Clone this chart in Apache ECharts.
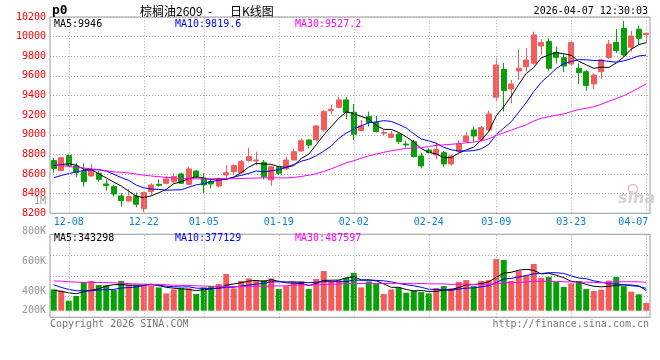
<!DOCTYPE html>
<html>
<head>
<meta charset="utf-8">
<script src="https://cdn.jsdelivr.net/npm/echarts@6/dist/echarts.min.js"></script>
<style>html,body{margin:0;padding:0;background:#fff}#c{width:660px;height:360px}</style>
</head>
<body>
<div id="c"></div>
<script>
// ---------- data ----------
const dates = [
 '2025-12-04','2025-12-05','2025-12-08','2025-12-09','2025-12-10','2025-12-11','2025-12-12','2025-12-15','2025-12-16','2025-12-17',
 '2025-12-18','2025-12-19','2025-12-22','2025-12-23','2025-12-24','2025-12-25','2025-12-26','2025-12-29','2025-12-30','2025-12-31',
 '2026-01-05','2026-01-06','2026-01-07','2026-01-08','2026-01-09','2026-01-12','2026-01-13','2026-01-14','2026-01-15','2026-01-16',
 '2026-01-19','2026-01-20','2026-01-21','2026-01-22','2026-01-23','2026-01-26','2026-01-27','2026-01-28','2026-01-29','2026-01-30',
 '2026-02-02','2026-02-03','2026-02-04','2026-02-05','2026-02-06','2026-02-09','2026-02-10','2026-02-11','2026-02-12','2026-02-13',
 '2026-02-24','2026-02-25','2026-02-26','2026-02-27','2026-03-02','2026-03-03','2026-03-04','2026-03-05','2026-03-06','2026-03-09',
 '2026-03-10','2026-03-11','2026-03-12','2026-03-13','2026-03-16','2026-03-17','2026-03-18','2026-03-19','2026-03-20','2026-03-23',
 '2026-03-24','2026-03-25','2026-03-26','2026-03-27','2026-03-30','2026-03-31','2026-04-01','2026-04-02','2026-04-03','2026-04-07'
];
const opens = [
 8737,8635,8788,8682,8625,8580,8608,8499,8472,8377,
 8326,8377,8248,8421,8495,8506,8523,8601,8495,8631,
 8557,8523,8478,8591,8625,8614,8737,8733,8720,8540,
 8669,8652,8743,8835,8947,8947,9049,9246,9280,9355,
 9229,9042,9185,9124,9015,8974,9008,8906,8930,8784,
 8845,8794,8818,8703,8828,8930,9049,8947,9049,9382,
 9667,9467,9650,9694,9728,9905,9949,9840,9786,9721,
 9677,9643,9518,9643,9786,9942,10085,9891,10075,10020
];
const closes = [
 8658,8767,8686,8614,8523,8640,8546,8482,8397,8329,
 8370,8292,8411,8489,8485,8550,8574,8506,8652,8574,
 8489,8499,8550,8614,8686,8726,8777,8743,8574,8675,
 8608,8743,8828,8940,8896,9090,9236,9260,9355,9226,
 9005,9090,9124,9032,9022,9008,8930,8896,8777,8682,
 8818,8852,8703,8784,8906,8988,8988,9073,9212,9711,
 9450,9518,9677,9762,10017,9939,9677,9789,9701,9939,
 9633,9501,9609,9762,9925,9857,9813,10007,9983,10034
];
const highs = [
 8767,8774,8794,8709,8709,8703,8631,8546,8489,8404,
 8445,8411,8421,8506,8546,8580,8608,8614,8675,8641,
 8608,8557,8565,8692,8699,8743,8869,8828,8743,8686,
 8682,8777,8852,8964,8954,9100,9253,9304,9389,9382,
 9314,9151,9236,9192,9049,9039,9015,8940,8947,8818,
 8862,8920,8835,8794,8940,9025,9083,9090,9246,9779,
 9735,9558,9871,9881,10051,9973,9983,9898,9820,9959,
 9728,9660,9626,9769,9966,10078,10160,10061,10112,10034
];
const lows = [
 8614,8631,8675,8567,8472,8574,8523,8431,8370,8268,
 8319,8261,8214,8387,8472,8495,8506,8499,8489,8557,
 8404,8455,8462,8557,8591,8601,8726,8686,8546,8482,
 8591,8641,8737,8828,8862,8940,9032,9209,9270,9161,
 8947,9039,9083,9025,8991,8964,8906,8872,8770,8658,
 8811,8750,8675,8686,8818,8920,8930,8940,9032,9348,
 9236,9321,9558,9643,9718,9813,9653,9728,9637,9711,
 9518,9450,9463,9569,9772,9830,9796,9847,9915,9932
];
const ma5 = [
 8688,8697,8705,8690,8650,8646,8602,8561,8518,8478,
 8425,8374,8360,8378,8409,8445,8502,8521,8553,8571,
 8559,8544,8553,8545,8568,8615,8671,8709,8701,8699,
 8675,8669,8686,8759,8803,8899,8998,9084,9167,9233,
 9216,9187,9160,9095,9055,9055,9023,8978,8927,8859,
 8821,8805,8766,8768,8813,8847,8874,8948,9033,9194,
 9287,9393,9514,9624,9685,9783,9814,9837,9825,9809,
 9748,9713,9677,9689,9686,9731,9793,9873,9917,9939
];
const ma10 = [
 8563,8585,8605,8622,8635,8642,8643,8630,8598,8564,
 8535,8487,8460,8447,8444,8435,8438,8440,8466,8490,
 8502,8523,8537,8549,8569,8587,8607,8631,8623,8633,
 8645,8670,8697,8730,8751,8787,8833,8885,8963,9018,
 9058,9093,9122,9131,9144,9136,9105,9069,9011,8957,
 8938,8914,8872,8847,8836,8834,8839,8857,8901,9004,
 9067,9133,9231,9329,9440,9535,9604,9675,9724,9747,
 9765,9764,9757,9757,9748,9739,9753,9775,9803,9812
];
const ma30 = [
 8706,8690,8676,8668,8661,8653,8645,8634,8623,8617,
 8611,8600,8589,8580,8573,8566,8561,8556,8553,8551,
 8550,8550,8551,8552,8553,8555,8557,8559,8561,8562,
 8561,8560,8565,8576,8588,8603,8626,8652,8684,8714,
 8735,8762,8785,8804,8821,8837,8849,8862,8866,8869,
 8880,8892,8897,8903,8910,8919,8926,8937,8958,8993,
 9021,9047,9075,9102,9140,9168,9183,9200,9212,9236,
 9257,9270,9286,9311,9341,9369,9399,9436,9476,9521
];
// volumes in thousands of lots (K)
const volumes = [
 411,402,336,367,460,467,440,438,407,467,
 442,440,438,438,424,384,411,418,418,380,
 424,433,447,513,418,467,484,473,473,484,
 413,433,460,467,413,480,533,467,473,487,
 520,424,464,447,380,411,422,389,402,393,
 384,420,433,418,460,473,433,467,473,613,
 607,467,533,504,580,487,493,460,427,451,
 467,413,400,409,469,493,433,396,378,320
];
const volMa5 = [
 405,398,388,382,395,406,414,434,442,444,
 439,439,439,445,436,425,419,415,411,402,
 410,415,420,439,447,456,466,471,463,476,
 465,455,453,451,437,451,471,472,473,488,
 496,474,474,468,447,425,425,410,401,403,
 398,398,406,410,423,441,443,450,461,492,
 519,525,539,545,538,514,519,505,489,464,
 460,444,432,428,432,437,441,440,434,404
];
const volMa10 = [
 442,424,411,402,402,402,407,409,411,420,
 423,426,437,444,440,432,429,427,428,419,
 418,417,418,425,425,433,440,446,451,462,
 461,461,462,457,457,458,463,462,462,463,
 473,472,473,471,468,461,450,442,435,425,
 412,411,408,405,413,419,421,428,435,457,
 480,484,494,503,515,516,522,522,517,501,
 487,482,468,459,448,448,442,436,431,418
];
const volMa30 = [
 467,466,462,459,458,458,457,456,455,452,
 449,447,446,445,444,441,439,438,437,435,
 433,432,431,431,430,430,431,432,432,433,
 434,435,439,442,440,441,444,445,447,448,
 450,450,451,451,450,451,451,450,449,450,
 448,448,448,444,446,446,444,444,444,448,
 455,456,458,460,465,465,464,464,462,461,
 459,459,457,456,459,461,462,462,461,459
];
const xLabelDates = ['2025-12-08','2025-12-22','2026-01-05','2026-01-19','2026-02-02','2026-02-24','2026-03-09','2026-03-23','2026-04-07'];
const priceMin = 8200, priceMax = 10200, priceStep = 200;
const volMin = 269, volMax = 800;
const volTickValues = [269, 400, 600, 800];
const volTickLabels = ['200K', '400K', '600K', '800K'];
const priceHeader = ['MA5:9946', 'MA10:9819.6', 'MA30:9527.2'];
const volHeader = ['MA5:343298', 'MA10:377129', 'MA30:487597'];
const titleText = ['p0', '棕榈油2609', '-', '日K线图'];
const timeText = '2026-04-07 12:30:03';
const footerLeft = 'Copyright 2026 SINA.COM';
const footerRight = 'http://finance.sina.com.cn';

// ---------- styling ----------
const FONT = '"DejaVu Sans Mono", monospace';
const UP = '#f65b5b', DOWN = '#08a008';
const MA_COLORS = ['#000000', '#0000ff', '#ff00ff'];
const GRID_COLOR = '#aaaaaa', GRID_DASH = [1, 2];
const X_COLOR = '#0b82d4';
const labelSet = new Set(xLabelDates);
const lastDate = dates[dates.length - 1];

const candleData = dates.map((d, i) => [opens[i], closes[i], lows[i], highs[i]]);
const volData = volumes.map((v, i) => ({ value: v, itemStyle: { color: closes[i] >= opens[i] ? UP : DOWN } }));
const vLines = xLabelDates.map(d => ({ xAxis: d }));
const gridMarkLine = {
  symbol: 'none', silent: true, animation: false,
  label: { show: false },
  lineStyle: { color: GRID_COLOR, type: GRID_DASH, width: 1 },
  emphasis: { disabled: true },
  data: vLines
};
function maLine(name, data, color, xi, yi) {
  return { name, type: 'line', xAxisIndex: xi, yAxisIndex: yi, data, showSymbol: false, symbol: 'none',
    lineStyle: { color, width: 1 }, itemStyle: { color }, z: 4, silent: true, animation: false };
}

const graphics = [];
function txt(x, y, text, fill, extra) {
  graphics.push({ type: 'text', x, y, silent: true, z: 10,
    style: Object.assign({ text, fill, font: '10px ' + FONT, align: 'left', verticalAlign: 'middle' }, extra || {}) });
}
txt(52, 11, titleText[0], '#000', { font: 'bold 13px ' + FONT });
txt(140, 11, titleText[1], '#000', { font: '12px "Noto Sans CJK SC"' });
txt(210, 11, titleText[2], '#000', { font: '12px "Noto Sans CJK SC"', align: 'center' });
txt(230, 11, titleText[3], '#000', { font: '12px "Noto Sans CJK SC"' });
txt(648, 11, timeText, '#000', { align: 'right' });
[54, 175, 295].forEach((x, k) => { txt(x, 24, priceHeader[k], MA_COLORS[k]); txt(x, 238.5, volHeader[k], MA_COLORS[k]); });
txt(46, 201, '1M', '#999', { align: 'right' });
txt(50, 324, footerLeft, '#777');
txt(649, 324, footerRight, '#777', { align: 'right' });
txt(618, 199, 'sina', '#d4d4d4', { font: 'italic bold 16px "DejaVu Sans"' });
graphics.push({ type: 'circle', silent: true, z: 9, shape: { cx: 633, cy: 189, r: 4.5 },
  style: { fill: 'none', stroke: '#f2b8b8', lineWidth: 1.5 } });

const option = {
  animation: false,
  backgroundColor: '#ffffff',
  grid: [
    { left: 50, width: 600, top: 17, height: 196.3, show: true, borderColor: '#999', borderWidth: 1, backgroundColor: 'transparent' },
    { left: 50, width: 600, top: 231, height: 79.7, show: false },
    { left: 50, width: 600, top: 234.3, height: 83, show: true, borderColor: '#999', borderWidth: 1, backgroundColor: 'transparent' }
  ],
  xAxis: [
    { type: 'category', gridIndex: 0, data: dates, boundaryGap: true,
      axisLine: { show: false }, axisTick: { show: false }, splitLine: { show: false },
      axisLabel: {
        interval: (i, v) => labelSet.has(v),
        formatter: v => { const s = v.slice(5); return v === lastDate ? '{r|' + s + '}' : s; },
        color: X_COLOR, fontFamily: FONT, fontSize: 10, margin: 4,
        rich: { r: { padding: [0, 26, 0, 0], color: X_COLOR, fontFamily: FONT, fontSize: 10 } }
      } },
    { type: 'category', gridIndex: 1, data: dates, boundaryGap: true, show: false },
    { type: 'category', gridIndex: 2, data: dates, boundaryGap: true, show: false }
  ],
  yAxis: [
    { type: 'value', gridIndex: 0, min: priceMin, max: priceMax, interval: priceStep,
      axisLine: { show: false }, axisTick: { show: false },
      axisLabel: { color: '#ff0000', fontFamily: FONT, fontSize: 10, margin: 4, formatter: v => String(v) },
      splitLine: { show: true, lineStyle: { color: GRID_COLOR, type: GRID_DASH, width: 1 } } },
    { type: 'value', gridIndex: 1, min: volMin, max: volMax,
      axisLine: { show: false }, axisTick: { show: false }, splitLine: { show: false },
      axisLabel: { customValues: volTickValues, showMinLabel: true, showMaxLabel: true,
        formatter: v => { const k = volTickValues.indexOf(v); return k >= 0 ? volTickLabels[k] : ''; },
        color: '#999', fontFamily: FONT, fontSize: 10, margin: 4 } },
    { type: 'value', gridIndex: 2, min: 0, max: 4, interval: 1,
      axisLine: { show: false }, axisTick: { show: false }, axisLabel: { show: false },
      splitLine: { show: true, lineStyle: { color: GRID_COLOR, type: GRID_DASH, width: 1 } } }
  ],
  graphic: graphics,
  series: [
    { type: 'line', xAxisIndex: 0, yAxisIndex: 0, data: dates.map(() => null), z: 1, silent: true, markLine: gridMarkLine },
    { type: 'line', xAxisIndex: 2, yAxisIndex: 2, data: dates.map(() => null), z: 1, silent: true, markLine: gridMarkLine },
    { type: 'candlestick', xAxisIndex: 0, yAxisIndex: 0, data: candleData, barWidth: 5.5, z: 3, silent: true,
      itemStyle: { color: UP, color0: DOWN, borderColor: UP, borderColor0: DOWN, borderWidth: 1 } },
    maLine('MA5', ma5, MA_COLORS[0], 0, 0),
    maLine('MA10', ma10, MA_COLORS[1], 0, 0),
    maLine('MA30', ma30, MA_COLORS[2], 0, 0),
    { type: 'bar', xAxisIndex: 1, yAxisIndex: 1, data: volData, barWidth: 6, z: 3, silent: true },
    maLine('VMA5', volMa5, MA_COLORS[0], 1, 1),
    maLine('VMA10', volMa10, MA_COLORS[1], 1, 1),
    maLine('VMA30', volMa30, MA_COLORS[2], 1, 1)
  ]
};
const chart = echarts.init(document.getElementById('c'), null, { renderer: 'canvas', width: 660, height: 360 });
chart.setOption(option);
</script>
</body>
</html>
